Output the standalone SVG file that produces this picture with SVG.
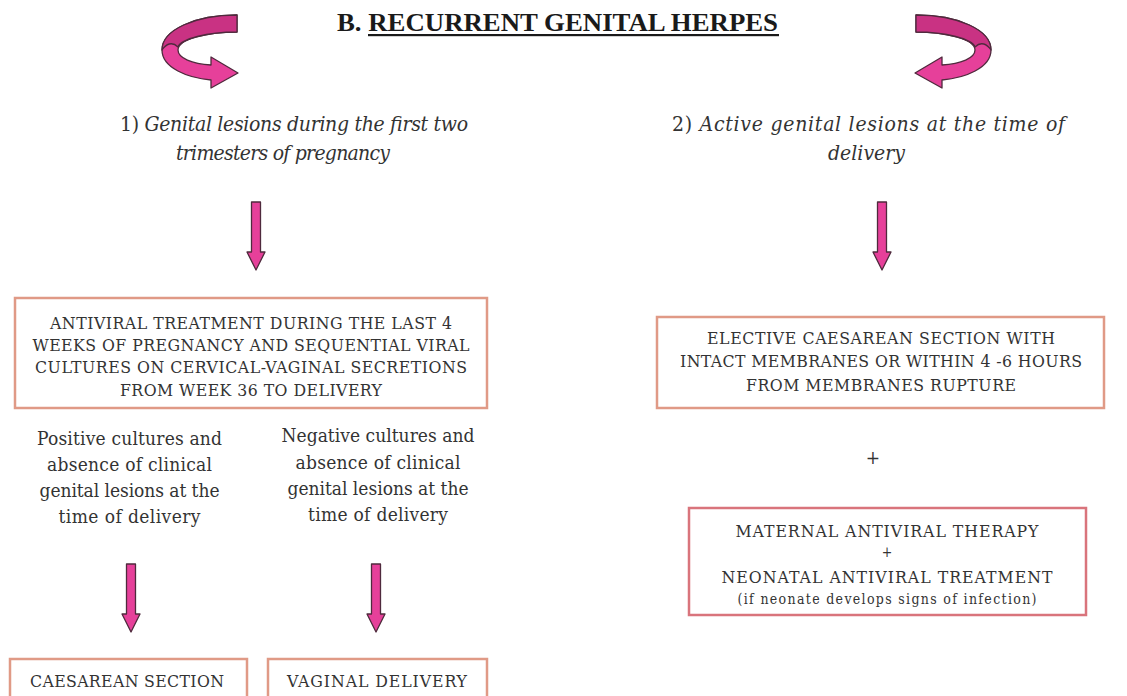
<svg xmlns="http://www.w3.org/2000/svg" width="1127" height="696" viewBox="0 0 1127 696">
<style>
.title{font-family:"Liberation Serif","Times New Roman",serif;font-weight:bold;font-size:26px;fill:#1a1a1a}
.head{font-family:"DejaVu Serif Condensed","DejaVu Serif",serif;font-style:italic;font-size:21px;fill:#333}
.head .num{font-style:normal}
.box{fill:#fff;stroke:#e09a86;stroke-width:2.5}
.boxr{fill:#fff;stroke:#d9747c;stroke-width:2.5}
.bt{font-family:"DejaVu Serif Condensed","DejaVu Serif",serif;font-size:17.5px;fill:#333;text-anchor:middle}
.st{font-family:"DejaVu Serif Condensed","DejaVu Serif",serif;font-size:14px;fill:#333;text-anchor:middle}
.ct{font-family:"DejaVu Serif Condensed","DejaVu Serif",serif;font-size:19px;fill:#333;text-anchor:middle}
.arr{fill:#e6409a;stroke:#4f2a3d;stroke-width:1.3;stroke-linejoin:round}
.arrd{fill:#c93283;stroke:#4f2a3d;stroke-width:1.3;stroke-linejoin:round}
</style>
<defs>
<path id="down" d="M -4.5 0 L 4.5 0 L 4.5 50 L 9 50 L 0 68 L -9 50 L -4.5 50 Z"/>
<g id="curl">
<path class="arr" d="M 237 15 C 195 15 162 30 162 50 C 162 68 188 78 211 80 L 211 88 L 238 73 L 211 57 L 211 65 C 192 64 178 58 178 50 C 178 40 205 32 237 32 Z"/>
<path class="arrd" d="M 237 15 C 195 15 162 30 162 50 C 166 44 172 41 178 47 C 181 39 207 32 237 32 Z"/>
</g>
</defs>
<rect width="1127" height="696" fill="#fff"/>

<g id="title">
<text class="title" x="337" y="31" textLength="441" lengthAdjust="spacingAndGlyphs">B. RECURRENT GENITAL HERPES</text>
<rect x="368" y="34" width="411" height="2.2" fill="#1a1a1a"/>
</g>

<g id="curl-left"><use href="#curl"/></g>
<g id="curl-right" transform="translate(1153,0) scale(-1,1)"><use href="#curl"/></g>

<g id="heading-1">
<text class="head" x="120" y="131" textLength="348" lengthAdjust="spacing"><tspan class="num">1)</tspan> Genital lesions during the first two</text>
<text class="head" x="176" y="160" textLength="214" lengthAdjust="spacing">trimesters of pregnancy</text>
</g>

<g id="heading-2">
<text class="head" x="672" y="131" textLength="393" lengthAdjust="spacing"><tspan class="num">2)</tspan> Active genital lesions at the time of</text>
<text class="head" x="828" y="160" textLength="77" lengthAdjust="spacing">delivery</text>
</g>

<g id="connectors">
<use href="#down" class="arr" x="256" y="202"/>
<use href="#down" class="arr" x="882" y="202"/>
<use href="#down" class="arr" x="131" y="564"/>
<use href="#down" class="arr" x="376" y="564"/>
</g>

<g id="antiviral-box">
<rect class="box" x="15" y="298" width="472" height="110"/>
<text class="bt" x="251" y="329" textLength="402" lengthAdjust="spacing">ANTIVIRAL TREATMENT DURING THE LAST 4</text>
<text class="bt" x="251" y="351" textLength="437" lengthAdjust="spacing">WEEKS OF PREGNANCY AND SEQUENTIAL VIRAL</text>
<text class="bt" x="251" y="373" textLength="432" lengthAdjust="spacing">CULTURES ON CERVICAL-VAGINAL SECRETIONS</text>
<text class="bt" x="251" y="396" textLength="262" lengthAdjust="spacing">FROM WEEK 36 TO DELIVERY</text>
</g>

<g id="positive-cond">
<text class="ct" x="129.5" y="445" textLength="185" lengthAdjust="spacing">Positive cultures and</text>
<text class="ct" x="129.5" y="471" textLength="165" lengthAdjust="spacing">absence of clinical</text>
<text class="ct" x="129.5" y="497" textLength="180" lengthAdjust="spacing">genital lesions at the</text>
<text class="ct" x="129.5" y="523" textLength="142" lengthAdjust="spacing">time of delivery</text>
</g>

<g id="negative-cond">
<text class="ct" x="378" y="442" textLength="193" lengthAdjust="spacing">Negative cultures and</text>
<text class="ct" x="378" y="469" textLength="165" lengthAdjust="spacing">absence of clinical</text>
<text class="ct" x="378" y="495" textLength="181" lengthAdjust="spacing">genital lesions at the</text>
<text class="ct" x="378" y="521" textLength="140" lengthAdjust="spacing">time of delivery</text>
</g>

<g id="caesarean-box">
<rect class="box" x="10" y="659" width="237" height="50"/>
<text class="bt" x="127" y="687" textLength="194" lengthAdjust="spacing">CAESAREAN SECTION</text>
</g>

<g id="vaginal-box">
<rect class="box" x="268" y="659" width="219" height="50"/>
<text class="bt" x="377" y="687" textLength="180" lengthAdjust="spacing">VAGINAL DELIVERY</text>
</g>

<g id="elective-box">
<rect class="box" x="657" y="317" width="447" height="91"/>
<text class="bt" x="881" y="344" textLength="348" lengthAdjust="spacing">ELECTIVE CAESAREAN SECTION WITH</text>
<text class="bt" x="881" y="367" textLength="402" lengthAdjust="spacing">INTACT MEMBRANES OR WITHIN 4 -6 HOURS</text>
<text class="bt" x="881" y="391" textLength="270" lengthAdjust="spacing">FROM MEMBRANES RUPTURE</text>
</g>

<g id="plus">
<text class="bt" x="873" y="464" style="font-size:19px">+</text>
</g>

<g id="therapy-box">
<rect class="boxr" x="689" y="508" width="397" height="107"/>
<text class="bt" x="887" y="537" textLength="303" lengthAdjust="spacing">MATERNAL ANTIVIRAL THERAPY</text>
<text class="st" x="887" y="557">+</text>
<text class="bt" x="887" y="583" textLength="331" lengthAdjust="spacing">NEONATAL ANTIVIRAL TREATMENT</text>
<text class="st" x="887" y="604" textLength="299" lengthAdjust="spacing">(if neonate develops signs of infection)</text>
</g>
</svg>
